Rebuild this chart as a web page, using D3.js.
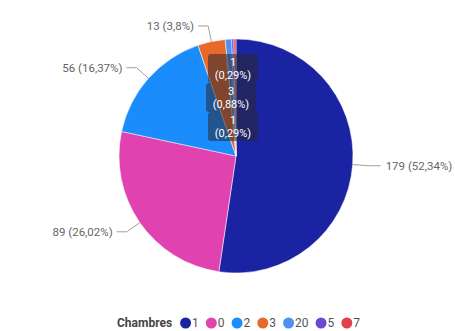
<!DOCTYPE html>
<html>
<head>
<meta charset="utf-8">
<script src="https://cdn.jsdelivr.net/npm/d3@7"></script>
<style>
  html, body { margin: 0; padding: 0; background: #fff; }
  svg { display: block; font-family: Roboto, "Liberation Sans", Arial, sans-serif; }
</style>
</head>
<body>
<svg id="chart" width="455" height="331"></svg>
<script>
// Chambres: number of responses per category
const categories = ["1", "0", "2", "3", "20", "5", "7"];
const values = [179, 89, 56, 13, 3, 1, 1];
const colors = ["#1a24a3", "#e043b0", "#1a8cfb", "#e8692c", "#4d8ff5", "#6a4bd0", "#e0404e"];
const outsideLabels = ["1", "0", "2", "3"];          // slices labelled outside with leader lines
const stackedLabels = ["7", "20", "5"];              // tiny slices labelled in a stacked box column
const legendTitle = "Chambres";

const svg = d3.select("#chart");
const cx = 236, cy = 156, r = 117;
const total = d3.sum(values);
const fmtPct = v => {
  const p = +(v / total * 100).toFixed(2);
  return String(p).replace(".", ",") + "%";
};

const data = categories.map((c, i) => ({ cat: c, value: values[i], color: colors[i] }));
const pie = d3.pie().value(d => d.value).sort(null);
const arcs = pie(data);
const arc = d3.arc().innerRadius(0).outerRadius(r);

const g = svg.append("g").attr("transform", `translate(${cx},${cy})`);
g.selectAll("path.slice")
  .data(arcs)
  .join("path")
  .attr("class", "slice")
  .attr("d", arc)
  .attr("fill", d => d.data.color)
  .attr("stroke", "#fff")
  .attr("stroke-width", 0.5);

// Outside labels with elbow leader lines
const pt = (a, rad) => [rad * Math.sin(a), -rad * Math.cos(a)];
arcs.filter(d => outsideLabels.includes(d.data.cat)).forEach(d => {
  const mid = (d.startAngle + d.endAngle) / 2;
  const p0 = pt(mid, r);
  const p1 = pt(mid, r + 16);
  const right = Math.sin(mid) > 0;
  const p2 = [p1[0] + (right ? 12 : -10), p1[1]];
  g.append("polyline")
    .attr("points", [p0, p1, p2].map(p => p.join(",")).join(" "))
    .attr("fill", "none")
    .attr("stroke", "#9e9e9e")
    .attr("stroke-width", 1);
  g.append("text")
    .attr("x", p2[0] + (right ? 5 : -4))
    .attr("y", p2[1])
    .attr("dy", "0.35em")
    .attr("text-anchor", right ? "start" : "end")
    .attr("fill", "#666")
    .attr("font-size", 11.5)
    .text(`${d.data.value} (${fmtPct(d.data.value)})`);
});

// Stacked box labels for the smallest slices
const boxW = 50, boxH = 29;
stackedLabels.forEach((cat, i) => {
  const d = arcs.find(a => a.data.cat === cat);
  const bx = -28 + (i === 1 ? -2 : 0);
  const by = -r + 15 + i * boxH;
  const bg = g.append("g").attr("transform", `translate(${bx},${by})`);
  bg.append("rect")
    .attr("width", boxW)
    .attr("height", boxH)
    .attr("rx", 3)
    .attr("fill", "rgba(40,40,48,0.55)");
  bg.append("text")
    .attr("x", boxW / 2).attr("y", 8)
    .attr("text-anchor", "middle")
    .attr("dy", "0.35em")
    .attr("fill", "#fff")
    .attr("font-size", 11)
    .text(d.data.value);
  bg.append("text")
    .attr("x", boxW / 2).attr("y", 21.5)
    .attr("text-anchor", "middle")
    .attr("dy", "0.35em")
    .attr("fill", "#fff")
    .attr("font-size", 11)
    .text(`(${fmtPct(d.data.value)})`);
});

// Legend
const legY = 323;
const leg = svg.append("g").attr("font-size", 12);
const title = leg.append("text")
  .attr("x", 117).attr("y", legY).attr("dy", "0.35em")
  .attr("font-weight", "bold").attr("fill", "#444")
  .text(legendTitle);
let x = 117 + title.node().getComputedTextLength() + 8;
data.forEach(d => {
  leg.append("circle").attr("cx", x + 5.5).attr("cy", legY).attr("r", 5.5).attr("fill", d.color);
  const t = leg.append("text")
    .attr("x", x + 12).attr("y", legY).attr("dy", "0.35em")
    .attr("fill", "#555")
    .text(d.cat);
  x += 12 + t.node().getComputedTextLength() + 7;
});
</script>
</body>
</html>
